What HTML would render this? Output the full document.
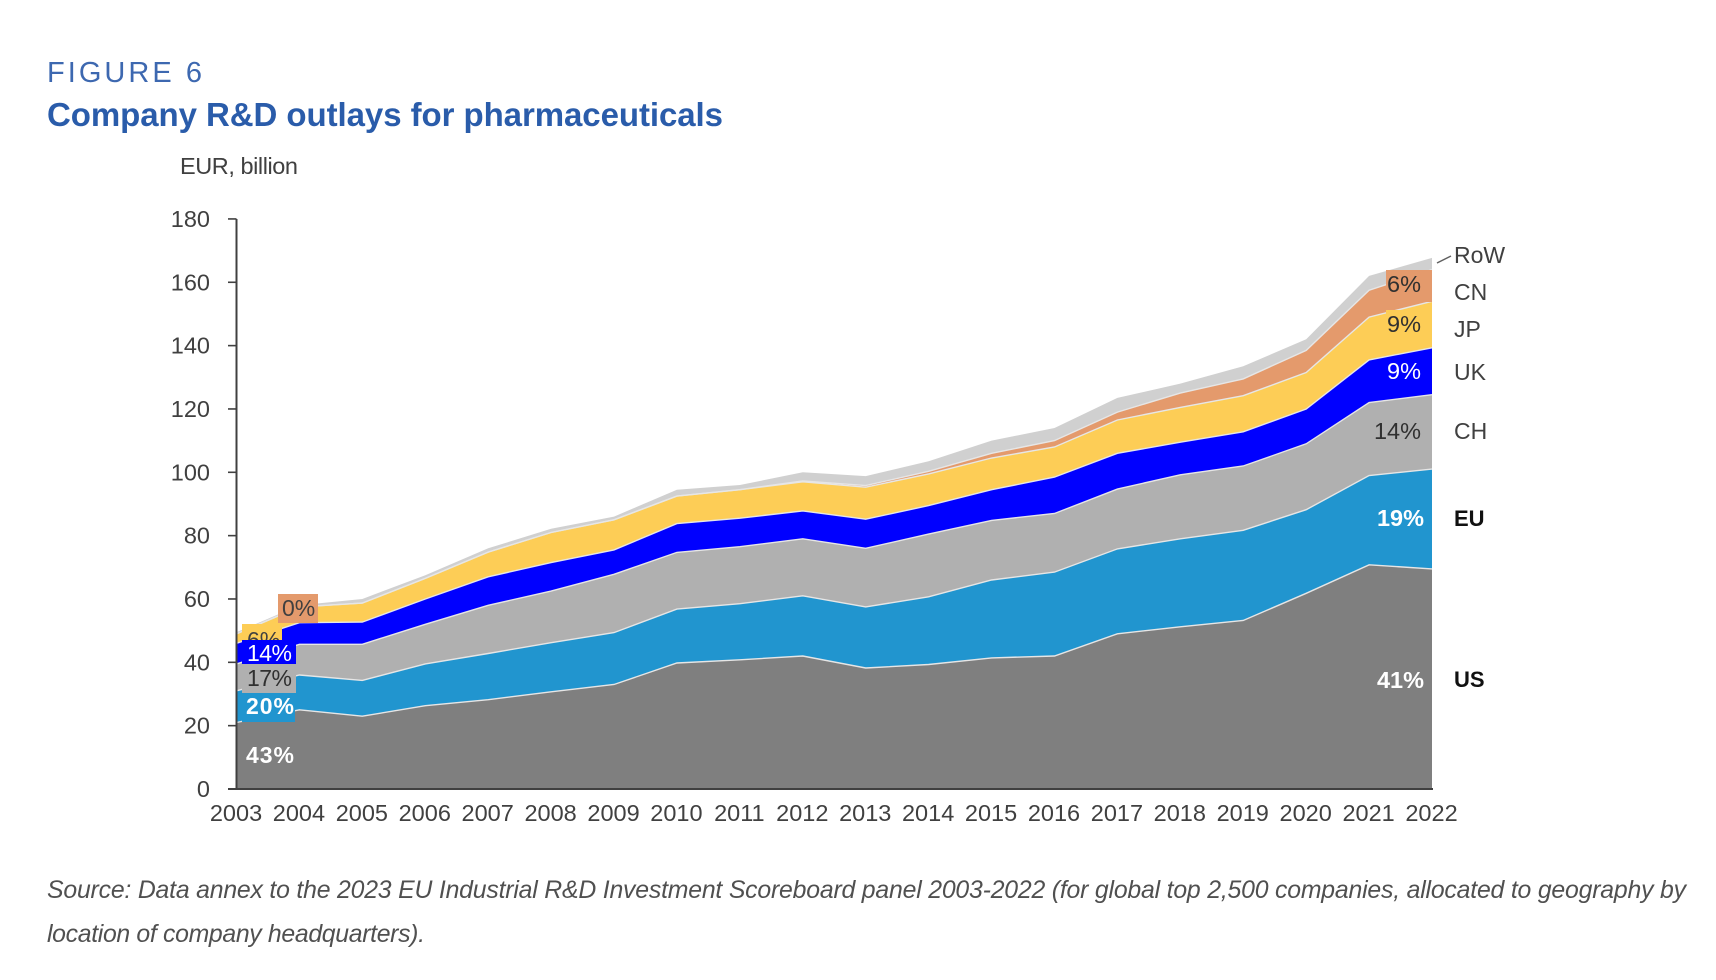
<!DOCTYPE html>
<html lang="en">
<head>
<meta charset="utf-8">
<title>Company R&amp;D outlays for pharmaceuticals</title>
<style>
  html, body { margin: 0; padding: 0; background: #fff; }
  svg { display: block; }
  text { font-family: "Liberation Sans", sans-serif; }
</style>
</head>
<body>
<svg id="chart" xmlns="http://www.w3.org/2000/svg" width="1716" height="980" viewBox="0 0 1716 980">
  <rect width="1716" height="980" fill="#ffffff"/>
  <text x="47" y="82" font-size="29" fill="#3d68b0" textLength="155" lengthAdjust="spacing">FIGURE 6</text>
  <text x="47" y="126" font-size="33" font-weight="700" fill="#2a5caa" textLength="676" lengthAdjust="spacing">Company R&amp;D outlays for pharmaceuticals</text>
  <text x="180" y="174" font-size="23.5" fill="#404040" textLength="118" lengthAdjust="spacing">EUR, billion</text>

  <g id="areas"></g>
  <g id="axes"></g>

  <g font-size="23">
    <rect x="242" y="624" width="40" height="18" fill="#fdcd56"/>
    <text x="247" y="648" fill="#404040">6%</text>
    <rect x="242" y="640" width="54" height="24" fill="#0000ff"/>
    <text x="247" y="661" fill="#ffffff" textLength="45">14%</text>
    <rect x="242" y="664" width="54" height="29" fill="#b0b0b0"/>
    <text x="247" y="686" fill="#303030" textLength="45">17%</text>
    <rect x="242" y="693" width="53" height="29" fill="#2195cf"/>
    <text x="246" y="714" fill="#ffffff" font-weight="700" textLength="48">20%</text>
    <text x="246" y="763" fill="#ffffff" font-weight="700" textLength="48">43%</text>
    <rect x="278" y="594" width="40" height="29" fill="#e49a6c"/>
    <text x="282" y="616" fill="#404040">0%</text>
  </g>

  <g font-size="23.5" text-anchor="end">
    <rect x="1386" y="270" width="46" height="32" fill="#e49a6c"/>
    <text x="1421" y="292" fill="#303030">6%</text>
    <rect x="1386" y="310" width="46" height="24" fill="#fdcd56"/>
    <text x="1421" y="332" fill="#303030">9%</text>
    <text x="1421" y="379" fill="#ffffff">9%</text>
    <text x="1421" y="439" fill="#303030">14%</text>
    <text x="1424" y="526" fill="#ffffff" font-weight="700">19%</text>
    <text x="1424" y="688" fill="#ffffff" font-weight="700">41%</text>
  </g>

  <g font-size="23" fill="#404040">
    <line x1="1437" y1="263" x2="1451" y2="256" stroke="#606060" stroke-width="1.5"/>
    <text x="1454" y="263">RoW</text>
    <text x="1454" y="300">CN</text>
    <text x="1454" y="337">JP</text>
    <text x="1454" y="380">UK</text>
    <text x="1454" y="439">CH</text>
    <text x="1454" y="526" fill="#111111" font-weight="700" font-size="22">EU</text>
    <text x="1454" y="687" fill="#111111" font-weight="700" font-size="22">US</text>
  </g>

  <g font-size="24.8" font-style="italic" fill="#505050">
    <text x="47" y="898" textLength="1639" lengthAdjust="spacing">Source: Data annex to the 2023 EU Industrial R&amp;D Investment Scoreboard panel 2003-2022 (for global top 2,500 companies, allocated to geography by</text>
    <text x="47" y="942" textLength="378" lengthAdjust="spacing">location of company headquarters).</text>
  </g>
</svg>

<script>
const years = [2003,2004,2005,2006,2007,2008,2009,2010,2011,2012,2013,2014,2015,2016,2017,2018,2019,2020,2021,2022];
const yTicks = [0,20,40,60,80,100,120,140,160,180];
const seriesNames = ['us','eu','ch','uk','jp','cn','row'];
const seriesColors = ['#7f7f7f','#2195cf','#b0b0b0','#0000ff','#fdcd56','#e49a6c','#d0d0d0'];

const us  = [21,25,23,26.3,28.2,30.7,33,39.8,40.8,42,38.2,39.3,41.4,42,49,51.2,53.2,61.8,70.8,69.5];
const eu  = [10,11,11.3,13.2,14.6,15.5,16.4,17,17.7,19,19.3,21.4,24.6,26.5,26.8,27.8,28.5,26.4,28.2,31.5];
const ch  = [8.5,9.7,11.4,12.5,15.2,16.3,18.4,17.9,18,18,18.5,19.8,18.8,18.5,18.9,20.2,20.3,20.8,23,23.5];
const uk  = [6.5,6.8,7,8,9,9,7.7,9.1,9,8.8,9.2,9,9.7,11.5,11.3,10.3,10.8,11,13.5,14.8];
const jp  = [3,5,6,6.5,7.8,9.5,9.5,8.7,9,9.2,10.1,10,10,9.5,10.5,11,11.4,11.5,13.5,14.7];
const cn  = [0,0,0,0,0,0,0,0,0,0.3,0.5,0.8,1.5,2,2.5,4.5,5.3,7,8.5,10];
const row = [0.5,0.5,1.3,1,1.2,1.2,1,2,1.5,2.7,3,3.2,4,4,4.5,3,4,3.5,4.5,3.7];
const seriesValues = [us, eu, ch, uk, jp, cn, row];

const NS = 'http://www.w3.org/2000/svg';
const plotLeft = 236.5, plotRight = 1432, plotBottom = 789, unitPx = 3.167;
function xScale(i) { return plotLeft + i * (plotRight - plotLeft) / (years.length - 1); }
function yScale(v) { return plotBottom - v * unitPx; }
function make(tag, parent) {
  const el = document.createElementNS(NS, tag);
  parent.appendChild(el);
  return el;
}

const areasGroup = document.getElementById('areas');
const axesGroup = document.getElementById('axes');

let baseline = years.map(function () { return 0; });
const edgeLines = [];
seriesValues.forEach(function (values, s) {
  const tops = values.map(function (v, i) { return baseline[i] + v; });
  const upper = tops.map(function (v, i) { return xScale(i).toFixed(1) + ',' + yScale(v).toFixed(1); });
  const lower = baseline.map(function (v, i) { return xScale(i).toFixed(1) + ',' + yScale(v).toFixed(1); }).reverse();
  const area = make('polygon', areasGroup);
  
  
  area.setAttribute('points', upper.concat(lower).join(' '));
  area.setAttribute('fill', seriesColors[s]);
  edgeLines.push({ name: seriesNames[s], points: upper.join(' ') });
  baseline = tops;
});

edgeLines.slice(0, -1).forEach(function (edge) {
  const line = make('polyline', areasGroup);
  
  
  line.setAttribute('points', edge.points);
  line.setAttribute('fill', 'none');
  line.setAttribute('stroke', '#e6e6e6');
  line.setAttribute('stroke-width', '1.4');
});

const yAxisLine = make('line', axesGroup);


yAxisLine.setAttribute('x1', plotLeft);
yAxisLine.setAttribute('x2', plotLeft);
yAxisLine.setAttribute('y1', yScale(180));
yAxisLine.setAttribute('y2', plotBottom);
yAxisLine.setAttribute('stroke', '#404040');
yAxisLine.setAttribute('stroke-width', '2');

const xAxisLine = make('line', axesGroup);


xAxisLine.setAttribute('x1', 228);
xAxisLine.setAttribute('x2', plotRight + 1);
xAxisLine.setAttribute('y1', plotBottom);
xAxisLine.setAttribute('y2', plotBottom);
xAxisLine.setAttribute('stroke', '#404040');
xAxisLine.setAttribute('stroke-width', '2');

yTicks.forEach(function (t) {
  const tick = make('line', axesGroup);
  
  
  tick.setAttribute('x1', 228);
  tick.setAttribute('x2', plotLeft);
  tick.setAttribute('y1', yScale(t));
  tick.setAttribute('y2', yScale(t));
  tick.setAttribute('stroke', '#404040');
  tick.setAttribute('stroke-width', '1.6');
  const label = make('text', axesGroup);
  
  
  label.setAttribute('x', 210);
  label.setAttribute('y', yScale(t) + 8);
  label.setAttribute('text-anchor', 'end');
  label.setAttribute('font-size', '23.5');
  label.setAttribute('fill', '#404040');
  label.textContent = t;
});

years.forEach(function (year, i) {
  const label = make('text', axesGroup);
  
  
  label.setAttribute('x', xScale(i) - 0.5);
  label.setAttribute('y', 821);
  label.setAttribute('text-anchor', 'middle');
  label.setAttribute('font-size', '23.5');
  label.setAttribute('fill', '#404040');
  label.textContent = year;
});
</script>
</body>
</html>
